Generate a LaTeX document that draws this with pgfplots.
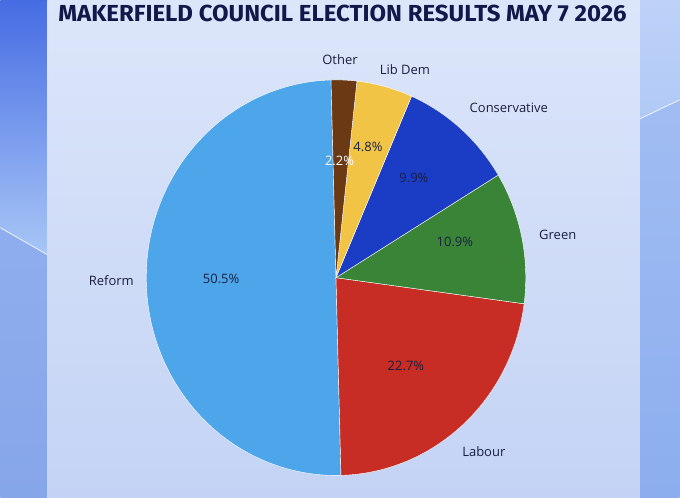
\documentclass[border=0pt]{standalone}
\usepackage{graphicx}
\usepackage{fontspec}
\setmainfont{Open Sans}
\newfontfamily\titlefont{Fira Sans}
\usepackage{pgfplots}
\pgfplotsset{compat=1.18}
\definecolor{cReform}{HTML}{4DA6EA}
\definecolor{cLabour}{HTML}{C82D25}
\definecolor{cGreen}{HTML}{3A8438}
\definecolor{cCon}{HTML}{1B3CC4}
\definecolor{cLib}{HTML}{F2C446}
\definecolor{cOther}{HTML}{6B3914}
\definecolor{txt}{HTML}{1A1F40}
\definecolor{ttl}{HTML}{12184A}
\definecolor{panelTop}{HTML}{DCE6FA}
\definecolor{panelBot}{HTML}{C4D3F5}
\begin{document}
\begin{tikzpicture}
% vote shares (percent), clockwise from the top
\def\pOther{2.2}
\def\pLib{4.8}
\def\pCon{9.9}
\def\pGreen{10.9}
\def\pLabour{22.7}
\def\pReform{50.5}
\pgfmathsetmacro\ptot{\pOther+\pLib+\pCon+\pGreen+\pLabour+\pReform}
\pgfmathsetmacro\k{360/\ptot}
\pgfmathsetmacro\aA{91.5}
\pgfmathsetmacro\aB{\aA-\pOther*\k}
\pgfmathsetmacro\aC{\aB-\pLib*\k}
\pgfmathsetmacro\aD{\aC-\pCon*\k}
\pgfmathsetmacro\aE{\aD-\pGreen*\k}
\pgfmathsetmacro\aF{\aE-\pLabour*\k}
\pgfmathsetmacro\aG{\aF-\pReform*\k}
\def\cx{336}\def\cy{220}\def\rx{190}\def\ry{198}
\begin{axis}[width=680pt,height=498pt,scale only axis,
  xmin=0,xmax=680,ymin=0,ymax=498,hide axis,clip=false]
% background: left strip
\shade[top color={rgb,255:red,150;green,180;blue,242},bottom color={rgb,255:red,134;green,166;blue,234}] (axis cs:0,0) rectangle (axis cs:47,498);
\shade[top color={rgb,255:red,70;green,108;blue,228},bottom color={rgb,255:red,168;green,198;blue,246}] (axis cs:0,270) -- (axis cs:47,243) -- (axis cs:47,498) -- (axis cs:0,498) -- cycle;
\draw[white,opacity=0.85,line width=0.8pt] (axis cs:0,270) -- (axis cs:47,243);
% background: right strip
\shade[top color={rgb,255:red,166;green,192;blue,244},bottom color={rgb,255:red,140;green,174;blue,238}] (axis cs:640,0) rectangle (axis cs:680,498);
\shade[top color={rgb,255:red,190;green,210;blue,248},bottom color={rgb,255:red,176;green,201;blue,246}] (axis cs:640,379) -- (axis cs:680,398) -- (axis cs:680,498) -- (axis cs:640,498) -- cycle;
\draw[white,opacity=0.85,line width=0.8pt] (axis cs:640,379) -- (axis cs:680,398);
% panel
\shade[top color=panelTop,bottom color=panelBot] (axis cs:47,0) rectangle (axis cs:640,498);
% slices
\addplot[fill=cReform,draw=white,line width=0.4pt,domain=\aG:\aF,samples=120,variable=\t]
  ({\cx+\rx*cos(\t)},{\cy+\ry*sin(\t)}) -- (axis cs:\cx,\cy) -- cycle;
\addplot[fill=cLabour,draw=white,line width=0.4pt,domain=\aF:\aE,samples=60,variable=\t]
  ({\cx+\rx*cos(\t)},{\cy+\ry*sin(\t)}) -- (axis cs:\cx,\cy) -- cycle;
\addplot[fill=cGreen,draw=white,line width=0.4pt,domain=\aE:\aD,samples=40,variable=\t]
  ({\cx+\rx*cos(\t)},{\cy+\ry*sin(\t)}) -- (axis cs:\cx,\cy) -- cycle;
\addplot[fill=cCon,draw=white,line width=0.4pt,domain=\aD:\aC,samples=40,variable=\t]
  ({\cx+\rx*cos(\t)},{\cy+\ry*sin(\t)}) -- (axis cs:\cx,\cy) -- cycle;
\addplot[fill=cLib,draw=white,line width=0.4pt,domain=\aC:\aB,samples=20,variable=\t]
  ({\cx+\rx*cos(\t)},{\cy+\ry*sin(\t)}) -- (axis cs:\cx,\cy) -- cycle;
\addplot[fill=cOther,draw=white,line width=0.4pt,domain=\aB:\aA,samples=10,variable=\t]
  ({\cx+\rx*cos(\t)},{\cy+\ry*sin(\t)}) -- (axis cs:\cx,\cy) -- cycle;
% title
\node[text=ttl,inner sep=0pt,anchor=base] at (axis cs:342.5,476)
  {\resizebox{569pt}{\height}{\fontsize{23.2}{23.2}\selectfont\titlefont\bfseries MAKERFIELD COUNCIL ELECTION RESULTS MAY 7 2026}};
% labels
\begin{scope}[every node/.style={text=txt,inner sep=0pt,font=\fontsize{13}{13}\selectfont}]
\node at (axis cs:340,438) {Other};
\node at (axis cs:405,428) {Lib Dem};
\node at (axis cs:509,390) {Conservative};
\node at (axis cs:558,263) {Green};
\node at (axis cs:484,46) {Labour};
\node at (axis cs:111,217) {Reform};
\node at (axis cs:221,219) {50.5\%};
\node at (axis cs:406,132) {22.7\%};
\node at (axis cs:455,256) {10.9\%};
\node at (axis cs:414,320) {9.9\%};
\node at (axis cs:368,350.5) {4.8\%};
\node[text=white] at (axis cs:339.5,337) {2.2\%};
\end{scope}
\end{axis}
\end{tikzpicture}
\end{document}
